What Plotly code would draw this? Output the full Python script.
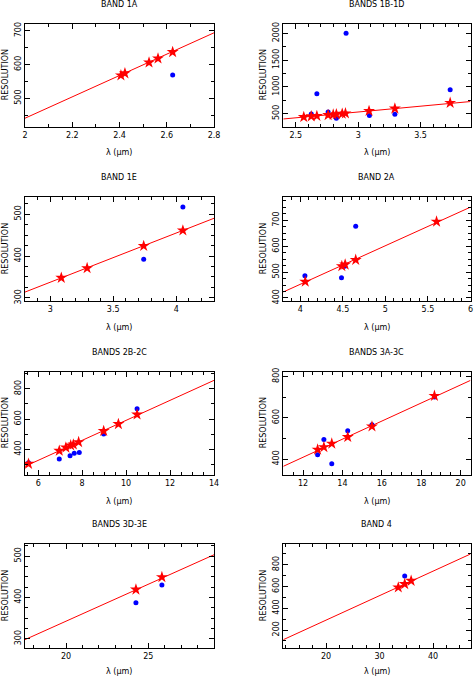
import plotly.graph_objects as go

# ---------------- data ----------------
titles = ["BAND 1A", "BANDS 1B-1D", "BAND 1E", "BAND 2A",
          "BANDS 2B-2C", "BANDS 3A-3C", "BANDS 3D-3E", "BAND 4"]

star_x_1a = [2.406, 2.423, 2.525, 2.563, 2.625]
star_y_1a = [568, 574, 606, 618, 637]
dot_x_1a = [2.625]
dot_y_1a = [569]
fit_x_1a = [2.0, 2.8]
fit_y_1a = [441, 694]

star_x_1b = [2.564, 2.624, 2.669, 2.759, 2.800, 2.825, 2.872, 2.898, 3.087, 3.294, 3.737]
star_y_1b = [436, 449, 456, 472, 480, 487, 497, 504, 549, 594, 700]
dot_x_1b = [2.624, 2.669, 2.759, 2.825, 2.903, 3.090, 3.294, 3.737]
dot_y_1b = [490, 870, 530, 412, 2000, 465, 487, 945]
fit_x_1b = [2.4, 3.9]
fit_y_1b = [399, 725]

star_x_1e = [3.088, 3.293, 3.742, 4.053]
star_y_1e = [348, 371, 424, 461]
dot_x_1e = [3.742, 4.053]
dot_y_1e = [392, 517]
fit_x_1e = [2.8, 4.3]
fit_y_1e = [314, 490]

star_x_2a = [4.058, 4.488, 4.527, 4.651, 5.601]
star_y_2a = [463, 523, 529, 547, 695]
dot_x_2a = [4.054, 4.484, 4.520, 4.651]
dot_y_2a = [486, 478, 522, 677]
fit_x_2a = [3.8, 6.0]
fit_y_2a = [423, 751]

star_x_2b = [5.56, 6.96, 7.26, 7.48, 7.60, 7.84, 8.98, 9.65, 10.50]
star_y_2b = [305, 391, 412, 426, 432, 448, 521, 567, 630]
dot_x_2b = [5.56, 6.96, 7.45, 7.64, 7.87, 8.98, 10.50]
dot_y_2b = [312, 336, 358, 374, 380, 501, 668]
fit_x_2b = [5.4, 14.0]
fit_y_2b = [288, 855]

star_x_3a = [12.74, 13.06, 13.46, 14.27, 15.50, 18.67]
star_y_3a = [446, 458, 475, 507, 558, 706]
dot_x_3a = [12.74, 13.06, 13.46, 14.27, 15.50, 18.67]
dot_y_3a = [421, 495, 377, 537, 566, 700]
fit_x_3a = [11.0, 20.5]
fit_y_3a = [365, 781]

star_x_3d = [24.25, 25.83]
star_y_3d = [419, 449]
dot_x_3d = [24.25, 25.83]
dot_y_3d = [387, 430]
fit_x_3d = [17.5, 29.0]
fit_y_3d = [298, 503]

star_x_4 = [33.5, 34.7, 35.9]
star_y_4 = [591, 622, 652]
dot_x_4 = [34.7]
dot_y_4 = [695]
fit_x_4 = [12.0, 47.0]
fit_y_4 = [111, 898]

x_ranges = [[2.0, 2.8], [2.4, 3.9], [2.8, 4.3], [3.8, 6.0],
            [5.4, 14.0], [11.0, 20.5], [17.5, 29.0], [12.0, 47.0]]
y_ranges = [[415, 721], [249, 2180], [292, 540], [387, 789],
            [231, 912], [323, 823], [277, 529], [32, 990]]
x_major = [0.2, 0.5, 0.5, 0.5, 2, 2, 5, 10]
x_minor = [0.1, 0.1, 0.1, 0.1, 0.5, 0.5, 1, 2.5]
y_major = [100, 500, 100, 100, 200, 200, 100, 200]
y_minor = [50, 250, 25, 25, 100, 100, 25, 100]

panels = [
    (star_x_1a, star_y_1a, dot_x_1a, dot_y_1a, fit_x_1a, fit_y_1a),
    (star_x_1b, star_y_1b, dot_x_1b, dot_y_1b, fit_x_1b, fit_y_1b),
    (star_x_1e, star_y_1e, dot_x_1e, dot_y_1e, fit_x_1e, fit_y_1e),
    (star_x_2a, star_y_2a, dot_x_2a, dot_y_2a, fit_x_2a, fit_y_2a),
    (star_x_2b, star_y_2b, dot_x_2b, dot_y_2b, fit_x_2b, fit_y_2b),
    (star_x_3a, star_y_3a, dot_x_3a, dot_y_3a, fit_x_3a, fit_y_3a),
    (star_x_3d, star_y_3d, dot_x_3d, dot_y_3d, fit_x_3d, fit_y_3d),
    (star_x_4, star_y_4, dot_x_4, dot_y_4, fit_x_4, fit_y_4),
]

# ---------------- layout ----------------
W, H = 474, 679
FONT = "DejaVu Sans"
FS = 8
col_px = [(25.0, 214.0), (283.3, 470.5)]
row_px = [(23.7, 127.0), (197.3, 301.3), (371.7, 475.0), (544.0, 648.3)]

fig = go.Figure()
layout = dict(
    template="none",
    width=W, height=H, margin=dict(l=0, r=0, t=0, b=0, pad=0),
    paper_bgcolor="white", plot_bgcolor="white", showlegend=False,
    font=dict(family=FONT, size=FS, color="black"),
)
annotations = []

for i, (sx, sy, dx, dy, fx, fy) in enumerate(panels):
    r, c = divmod(i, 2)
    x0, x1 = col_px[c]
    t, b = row_px[r]
    xa = "x" if i == 0 else f"x{i+1}"
    ya = "y" if i == 0 else f"y{i+1}"
    fig.add_trace(go.Scatter(x=fx, y=fy, mode="lines", xaxis=xa, yaxis=ya,
                             line=dict(color="#ff0000", width=1), hoverinfo="skip"))
    fig.add_trace(go.Scatter(x=dx, y=dy, mode="markers", xaxis=xa, yaxis=ya,
                             marker=dict(symbol="circle", size=5, color="#0000ff",
                                         line=dict(width=0))))
    fig.add_trace(go.Scatter(x=sx, y=sy, mode="markers", xaxis=xa, yaxis=ya,
                             marker=dict(symbol="star", size=9, color="#ff0000",
                                         line=dict(width=0))))
    common = dict(showgrid=False, zeroline=False, showline=True, linecolor="black",
                  linewidth=1, mirror="ticks", ticks="inside", ticklen=5,
                  tickcolor="black", tickwidth=1, automargin=False,
                  tickfont=dict(family=FONT, size=FS, color="black"))
    layout["xaxis" + ("" if i == 0 else str(i + 1))] = dict(
        common, domain=[x0 / W, x1 / W], range=x_ranges[i], anchor=ya,
        tick0=0, dtick=x_major[i],
        minor=dict(dtick=x_minor[i], tick0=0, ticks="inside", ticklen=3,
                   tickcolor="black", showgrid=False))
    layout["yaxis" + ("" if i == 0 else str(i + 1))] = dict(
        common, domain=[1 - b / H, 1 - t / H], range=y_ranges[i], anchor=xa,
        tick0=0, dtick=y_major[i], tickangle=-90,
        minor=dict(dtick=y_minor[i], tick0=0, ticks="inside", ticklen=3,
                   tickcolor="black", showgrid=False))
    cx = (x0 + x1) / 2
    annotations.append(dict(text=titles[i], x=cx / W, y=1 - (t - 19.5) / H,
                            xref="paper", yref="paper", showarrow=False,
                            xanchor="center", yanchor="middle",
                            font=dict(family=FONT, size=FS)))
    annotations.append(dict(text="λ (μm)", x=cx / W, y=1 - min(b + 26, 671) / H,
                            xref="paper", yref="paper", showarrow=False,
                            xanchor="center", yanchor="middle",
                            font=dict(family=FONT, size=FS)))
    ytx = 5 if c == 0 else 263
    annotations.append(dict(text="RESOLUTION", x=ytx / W, y=1 - ((t + b) / 2) / H,
                            xref="paper", yref="paper", showarrow=False,
                            textangle=-90, xanchor="center", yanchor="middle",
                            font=dict(family=FONT, size=FS)))

layout["annotations"] = annotations
fig.update_layout(**layout)
fig.write_html("out.html", config={"displayModeBar": False},
               post_script="document.body.style.margin='0';document.body.style.padding='0';")
